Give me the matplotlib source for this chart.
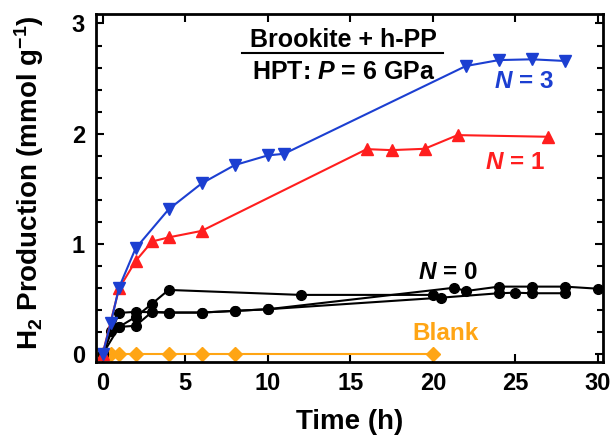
import numpy as np
import matplotlib
matplotlib.use("Agg")
import matplotlib.pyplot as plt
from matplotlib.ticker import MultipleLocator

plt.rcParams["font.family"] = ["Liberation Sans", "DejaVu Sans"]
plt.rcParams["font.weight"] = "bold"
plt.rcParams["mathtext.fontset"] = "custom"
plt.rcParams["mathtext.rm"] = "Liberation Sans:bold"
plt.rcParams["mathtext.it"] = "Liberation Sans:bold:italic"
plt.rcParams["mathtext.bf"] = "Liberation Sans:bold"

# N = 3
t_n3 = [0, 0.5, 1, 2, 4, 6, 8, 10, 11, 22, 24, 26, 28]
h2_n3 = [0, 0.286, 0.607, 0.961, 1.315, 1.55, 1.716, 1.804, 1.819, 2.614, 2.668, 2.675, 2.66]

# N = 1
t_n1 = [0, 1, 2, 3, 4, 6, 16, 17.5, 19.5, 21.5, 27]
h2_n1 = [0, 0.598, 0.846, 1.024, 1.061, 1.12, 1.861, 1.852, 1.864, 1.988, 1.973]

# N = 0, three runs
t_n0a = [0, 0.5, 1, 2, 3, 4, 12, 20]
h2_n0a = [0, 0.21, 0.25, 0.34, 0.46, 0.585, 0.54, 0.54]
t_n0b = [0, 1, 2, 3, 4, 6, 8, 10, 20.5, 24, 25, 26, 28]
h2_n0b = [0, 0.25, 0.26, 0.386, 0.38, 0.38, 0.395, 0.41, 0.515, 0.555, 0.56, 0.555, 0.555]
t_n0c = [0, 1, 2, 4, 6, 8, 10, 21.3, 22, 24, 26, 28, 30]
h2_n0c = [0, 0.377, 0.386, 0.38, 0.38, 0.395, 0.41, 0.605, 0.575, 0.615, 0.615, 0.615, 0.596]

# Blank
t_blank = [0, 0.5, 1, 2, 4, 6, 8, 20]
h2_blank = [0, 0, 0, 0, 0, 0, 0, 0]

blue = "#1c3fd1"
red = "#ff1e1e"
orange = "#ffa514"

fig = plt.figure(figsize=(6.12, 4.36), dpi=100)
ax = fig.add_axes([0.157, 0.170, 0.829, 0.799])

ax.plot(t_blank, h2_blank, color=orange, marker="D", ms=7, lw=1.5)
for t, h in [(t_n0a, h2_n0a), (t_n0b, h2_n0b), (t_n0c, h2_n0c)]:
    ax.plot(t, h, color="black", marker="o", ms=7, lw=1.5)
ax.plot(t_n1, h2_n1, color=red, marker="^", ms=8, lw=1.5)
ax.plot(t_n3, h2_n3, color=blue, marker="v", ms=8, lw=1.5)

ax.set_xlim(-0.39, 30.33)
ax.set_ylim(-0.067, 3.09)
ax.xaxis.set_major_locator(MultipleLocator(5))
ax.yaxis.set_major_locator(MultipleLocator(1))
ax.yaxis.set_minor_locator(MultipleLocator(0.2))
ax.tick_params(which="both", direction="in", top=True, right=True, width=1.5,
               labelsize=17)
ax.tick_params(axis="x", pad=7)
ax.tick_params(axis="y", pad=8)
ax.tick_params(which="major", length=6)
ax.tick_params(which="minor", length=4)
for s in ax.spines.values():
    s.set_linewidth(2)

ax.set_xlabel("Time (h)", fontsize=20, fontweight="bold")
ax.set_ylabel("H$_2$ Production (mmol g$^{-1}$)", fontsize=20, fontweight="bold")
ax.xaxis.set_label_coords(0.5, -0.135)
ax.yaxis.set_label_coords(-0.098, 0.515)

ax.text(14.6, 2.85, "Brookite + h-PP", fontsize=18, ha="center", va="center")
ax.plot([8.45, 20.6], [2.73, 2.73], color="black", lw=1.5)
ax.text(14.6, 2.56, "HPT: $P$ = 6 GPa", fontsize=18, ha="center", va="center")
ax.text(25.5, 2.47, "$N$ = 3", color=blue, fontsize=17.5, ha="center", va="center")
ax.text(25.0, 1.74, "$N$ = 1", color=red, fontsize=17.5, ha="center", va="center")
ax.text(20.9, 0.74, "$N$ = 0", color="black", fontsize=17.5, ha="center", va="center")
ax.text(20.8, 0.19, "Blank", color=orange, fontsize=17.5, ha="center", va="center")

fig.savefig("out.png", dpi=100)
